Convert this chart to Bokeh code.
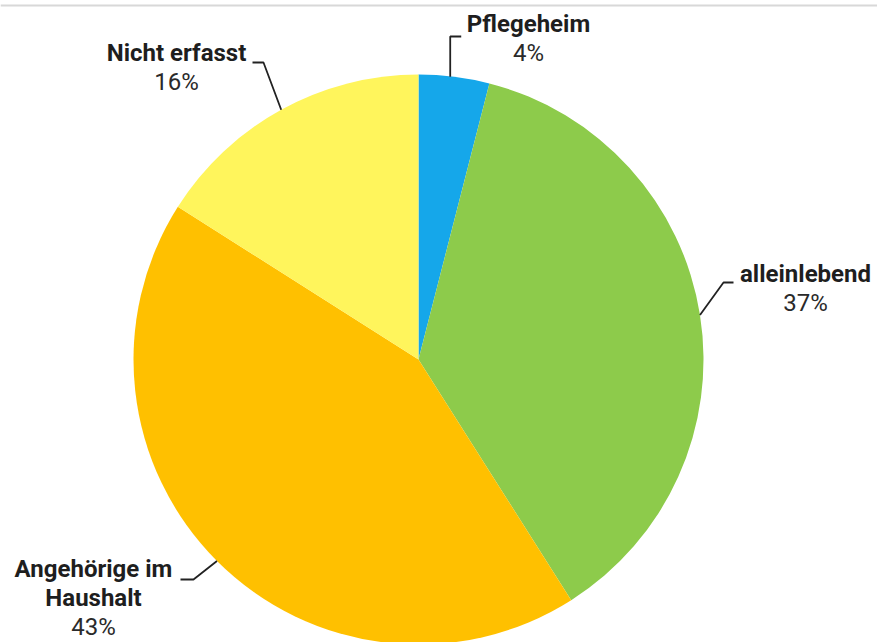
import math

from bokeh.core.properties import value
from bokeh.embed import file_html
from bokeh.models import ColumnDataSource, Range1d
from bokeh.plotting import figure
from bokeh.resources import INLINE

# Shares of the four living situations, clockwise from 12 o'clock
categories = ["Pflegeheim", "alleinlebend", "Angehörige im Haushalt", "Nicht erfasst"]
shares = [4, 37, 43, 16]
colors = ["#15a7ea", "#8dcb4b", "#ffc000", "#fff55c"]

# Label lines per slice (bold title lines, then the percentage line)
title_lines = [["Pflegeheim"], ["alleinlebend"], ["Angehörige im", "Haushalt"], ["Nicht erfasst"]]
pct_labels = [f"{s}%" for s in shares]

W, H = 877, 642
CX, CY, R = 418, H - 359, 285

# Layout of the callouts: label centre x, vertical middle of the first line
# (px from top), elbow of the leader and end of its short horizontal tick
label_x = [528, 805, 93, 176]
label_top_mid = [23, 273, 568, 52]
line_gap = 29
elbow = [(None, 36), (723, 282), (193, 579), (263, 62)]
tick_end = [(None, 36), (733, 282), (180, 579), (252, 62)]

p = figure(width=W, height=H, output_backend="svg", toolbar_location=None,
           x_range=Range1d(0, W), y_range=Range1d(0, H),
           min_border=0, outline_line_color=None)
p.axis.visible = False
p.grid.visible = False
p.background_fill_color = "white"
p.border_fill_color = "white"

# Wedges, clockwise from the top
total = float(sum(shares))
starts, ends, mids = [], [], []
acc = 0.0
for s in shares:
    a0 = math.pi / 2 - 2 * math.pi * acc / total
    acc += s
    a1 = math.pi / 2 - 2 * math.pi * acc / total
    starts.append(a0)
    ends.append(a1)
    mids.append((a0 + a1) / 2)

src = ColumnDataSource(dict(x=[CX] * len(shares), y=[CY] * len(shares),
                            start=starts, end=ends, color=colors, cat=categories))
p.wedge(x="x", y="y", radius=R, start_angle="start", end_angle="end",
        direction="clock", fill_color="color", line_color=None, source=src)

# Thin rule across the top
p.segment(x0=[0], y0=[H - 5], x1=[W], y1=[H - 5], line_color="#d8d8d8", line_width=2)

# Leader lines from each slice's mid-angle on the rim
lx, ly = [], []
for i, m in enumerate(mids):
    sx = CX + R * math.cos(m)
    sy = CY + R * math.sin(m)
    ex, ey = elbow[i]
    tx, ty = tick_end[i]
    if ex is None:
        ex = sx - 4
        tx = ex + 11
        sx = ex
    lx.append([sx, ex, tx])
    ly.append([sy, H - ey, H - ty])
p.multi_line(xs=lx, ys=ly, line_color="#222222", line_width=1.8)

# Callout texts
bx, by, bt = [], [], []
px_, py_, pt = [], [], []
for i in range(len(categories)):
    mid = label_top_mid[i]
    for j, line in enumerate(title_lines[i]):
        bx.append(label_x[i])
        by.append(H - (mid + j * line_gap))
        bt.append(line)
    px_.append(label_x[i])
    py_.append(H - (mid + len(title_lines[i]) * line_gap))
    pt.append(pct_labels[i])

p.text(x=bx, y=by, text=bt, text_font=value("Roboto"), text_font_style="bold",
       text_font_size="24px", text_align="center", text_baseline="middle",
       text_color="#1e1e1e")
p.text(x=px_, y=py_, text=pt, text_font=value("Roboto"), text_font_style="normal",
       text_font_size="24px", text_align="center", text_baseline="middle",
       text_color="#2a2a2a")

open("out.html", "w").write(file_html(p, INLINE))
